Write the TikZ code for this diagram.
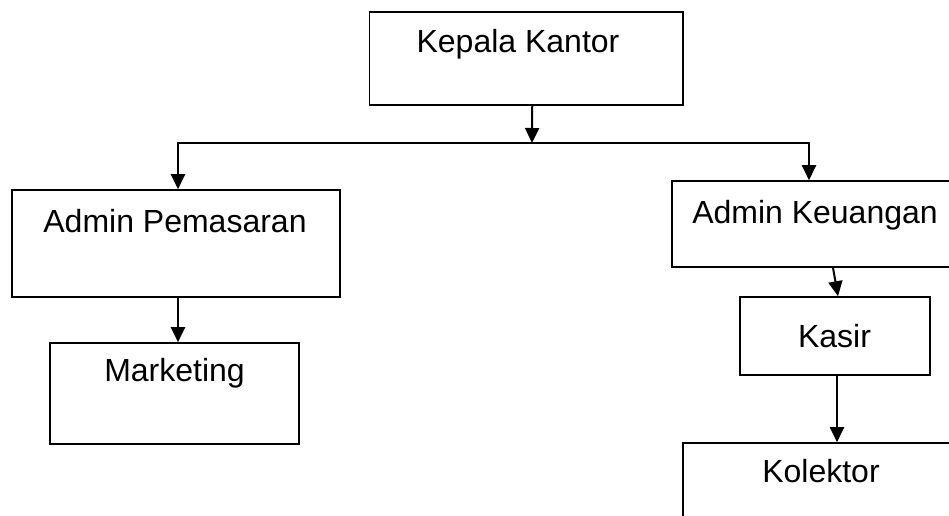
\documentclass[tikz,border=0pt]{standalone}
\usepackage{fontspec}
\setmainfont{Liberation Sans}
\usetikzlibrary{arrows.meta}
\begin{document}
\begin{tikzpicture}[x=1pt,y=-1pt,
  box/.style={draw=black,line width=1.6pt,rectangle,inner sep=0pt},
  lbl/.style={anchor=base,inner sep=0pt,font=\fontsize{32}{38}\selectfont},
  arr/.style={draw=black,line width=2pt,-{Triangle[length=15pt,width=14pt]}}]
\useasboundingbox (0,0) rectangle (949,515);
\clip (0,0) rectangle (949,515);
\node[box,minimum width=313.5pt,minimum height=93pt] (kk) at (526.25,58.5) {};
\node[box,minimum width=328pt,minimum height=107pt] (ap) at (176,243.5) {};
\node[box,minimum width=249pt,minimum height=101pt] (mk) at (174.5,393.5) {};
\node[box,minimum width=286pt,minimum height=86pt] (ak) at (815,224) {};
\node[box,minimum width=190pt,minimum height=78pt] (ks) at (835,336) {};
\node[box,minimum width=276pt,minimum height=157pt] (kol) at (821,521.5) {};
\node[lbl] (tkk) at (518,52) {Kepala Kantor};
\node[lbl] (tap) at (175,232) {Admin Pemasaran};
\node[lbl] (tmk) at (174.5,381) {Marketing};
\node[lbl] (tak) at (815,223) {Admin Keuangan};
\node[lbl] (tks) at (834.5,347) {Kasir};
\node[lbl] (tkol) at (821,482) {Kolektor};
\coordinate (bar) at (532,143);
\draw[arr] ([xshift=6pt]kk.south) -- (bar);
\draw[arr] (bar) -| ([xshift=2pt]ap.north);
\draw[arr] (bar) -| ([xshift=-6pt]ak.north);
\draw[arr] ([xshift=2pt]ap.south) -- ([xshift=3.5pt]mk.north);
\draw[arr] ([xshift=18pt]ak.south) -- ([xshift=3pt]ks.north);
\draw[arr] ([xshift=2pt]ks.south) -- ([xshift=16pt]kol.north);
\end{tikzpicture}
\end{document}
